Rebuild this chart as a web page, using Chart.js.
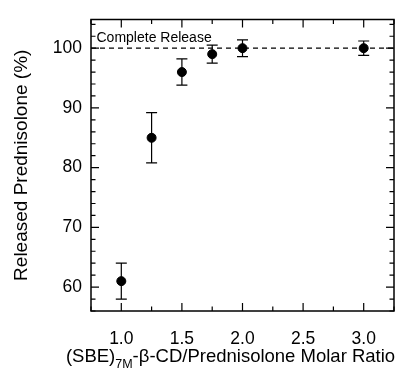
<!DOCTYPE html>
<html>
<head>
<meta charset="utf-8">
<script src="https://cdn.jsdelivr.net/npm/chart.js@4/dist/chart.umd.min.js"></script>
<style>
	html, body { margin: 0; padding: 0; background: #fff; }
	#box { width: 405px; height: 376px; }
</style>
</head>
<body>
<div id="box"><canvas id="graficoLiberacao"></canvas></div>
<script>
// dados
var razaoMolar = [1.0, 1.25, 1.5, 1.75, 2.0, 3.0];
var liberado = [61, 85, 96, 99, 100, 100];
var erro = [3.0, 4.2, 2.2, 1.5, 1.4, 1.2];
var ticksX = [1.0, 1.5, 2.0, 2.5, 3.0];
var ticksY = [60, 70, 80, 90, 100];
var nivelCompleto = 100;
var rotuloCompleto = 'Complete Release';

var fonte = "'Liberation Sans', Arial, Helvetica, sans-serif";

// barras de erro
var barrasErro = {
	id: 'barrasErro',
	afterDatasetsDraw: function(chart) {
		var ctx = chart.ctx, x = chart.scales.x, y = chart.scales.y;
		ctx.save();
		ctx.strokeStyle = '#000';
		ctx.lineWidth = 1.2;
		ctx.beginPath();
		razaoMolar.forEach(function(r, i) {
			var px = x.getPixelForValue(r);
			var y1 = y.getPixelForValue(liberado[i] + erro[i]);
			var y2 = y.getPixelForValue(liberado[i] - erro[i]);
			ctx.moveTo(px, y1); ctx.lineTo(px, y2);
			ctx.moveTo(px - 5.5, y1); ctx.lineTo(px + 5.5, y1);
			ctx.moveTo(px - 5.5, y2); ctx.lineTo(px + 5.5, y2);
		});
		ctx.stroke();
		ctx.restore();
	}
};

// moldura, ticks para dentro, textos extras
var moldura = {
	id: 'moldura',
	afterDraw: function(chart) {
		var ctx = chart.ctx, a = chart.chartArea, x = chart.scales.x, y = chart.scales.y;
		ctx.save();
		ctx.strokeStyle = '#000';
		ctx.lineWidth = 1.2;
		ctx.beginPath();
		var v, p, len;
		for (v = 0.75; v <= x.max + 1e-9; v += 0.25) {
			p = x.getPixelForValue(v);
			len = ticksX.some(function(t) { return Math.abs(t - v) < 1e-6; }) ? 8 : 4.5;
			ctx.moveTo(p, a.bottom); ctx.lineTo(p, a.bottom - len);
			ctx.moveTo(p, a.top); ctx.lineTo(p, a.top + len);
		}
		for (v = 56; v <= y.max + 1e-9; v += 2) {
			p = y.getPixelForValue(v);
			len = ticksY.indexOf(v) >= 0 ? 8 : 4.5;
			ctx.moveTo(a.left, p); ctx.lineTo(a.left + len, p);
			ctx.moveTo(a.right, p); ctx.lineTo(a.right - len, p);
		}
		ctx.stroke();
		ctx.lineWidth = 1.5;
		ctx.strokeRect(a.left, a.top, a.right - a.left, a.bottom - a.top);

		ctx.fillStyle = '#000';
		ctx.textBaseline = 'alphabetic';
		ctx.font = '14px ' + fonte;
		ctx.fillText(rotuloCompleto, x.getPixelForValue(x.min) + 5.5, y.getPixelForValue(nivelCompleto) - 6);

		// titulo do eixo x com subscrito
		var p1 = '(SBE)', sub = '7M', p2 = '-\u03b2-CD/Prednisolone Molar Ratio';
		var fMain = '18.5px ' + fonte, fSub = '12.5px ' + fonte;
		ctx.font = fMain; var w1 = ctx.measureText(p1).width, w3 = ctx.measureText(p2).width;
		ctx.font = fSub; var w2 = ctx.measureText(sub).width;
		var total = w1 + w2 + w3;
		var cx = (a.left + a.right) / 2 - 12;
		var x0 = cx - total / 2, base = 362;
		ctx.font = fMain; ctx.fillText(p1, x0, base);
		ctx.font = fSub; ctx.fillText(sub, x0 + w1, base + 5.5);
		ctx.font = fMain; ctx.fillText(p2, x0 + w1 + w2, base);
		ctx.restore();
	}
};

var grafico = new Chart(document.getElementById('graficoLiberacao').getContext('2d'), {
	type: 'scatter',
	data: {
		datasets: [{
			label: 'Released',
			data: razaoMolar.map(function(r, i) { return { x: r, y: liberado[i] }; }),
			backgroundColor: '#000',
			borderColor: '#000',
			borderWidth: 1,
			pointRadius: 4.5,
			pointHoverRadius: 4.5,
			order: 1
		}, {
			label: rotuloCompleto,
			type: 'line',
			data: [{ x: 0.75, y: nivelCompleto }, { x: 3.25, y: nivelCompleto }],
			borderColor: '#000',
			borderWidth: 1.2,
			borderDash: [5, 4],
			pointRadius: 0,
			fill: false,
			order: 2
		}]
	},
	options: {
		responsive: true,
		maintainAspectRatio: false,
		animation: false,
		events: [],
		layout: { padding: { left: 0, right: 11, top: 13, bottom: 0 } },
		plugins: { legend: { display: false }, tooltip: { enabled: false } },
		scales: {
			x: {
				type: 'linear',
				min: 0.75,
				max: 3.25,
				grid: { display: false, drawTicks: false },
				border: { display: false },
				afterBuildTicks: function(s) { s.ticks = ticksX.map(function(v) { return { value: v }; }); },
				afterFit: function(s) { s.height = 65; },
				ticks: {
					color: '#000',
					padding: 18,
					font: { family: fonte, size: 17.5 },
					callback: function(v) { return Number(v).toFixed(1); }
				}
			},
			y: {
				min: 56,
				max: 104.8,
				grid: { display: false, drawTicks: false },
				border: { display: false },
				afterBuildTicks: function(s) { s.ticks = ticksY.map(function(v) { return { value: v }; }); },
				afterFit: function(s) { s.width = 91; },
				ticks: {
					color: '#000',
					padding: 9,
					font: { family: fonte, size: 17.5 },
					callback: function(v) { return v; }
				},
				title: {
					display: true,
					text: 'Released Prednisolone (%)',
					color: '#000',
					padding: { top: 10.5, bottom: 0 },
					font: { family: fonte, size: 19 }
				}
			}
		}
	},
	plugins: [barrasErro, moldura]
});
</script>
</body>
</html>
